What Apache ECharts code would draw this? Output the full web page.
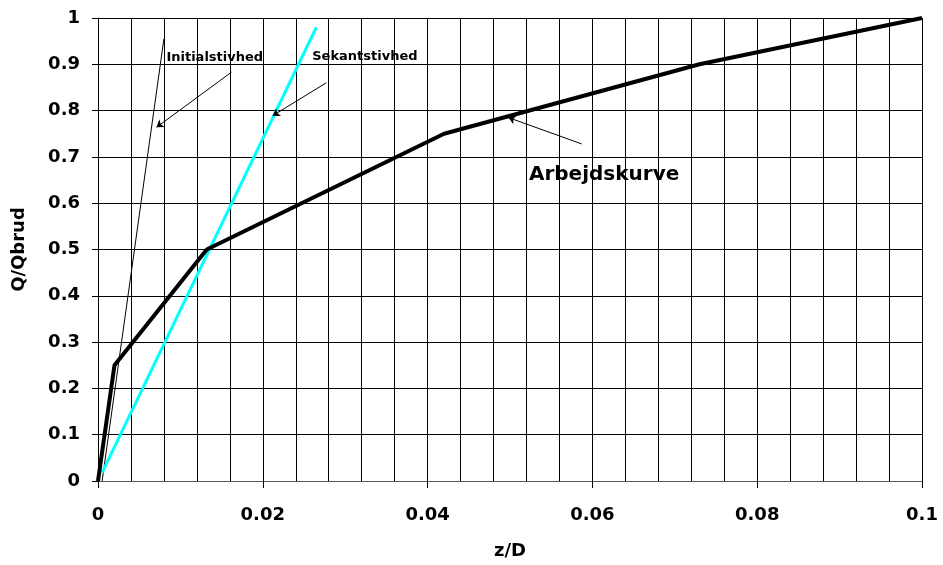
<!DOCTYPE html>
<html>
<head>
<meta charset="utf-8">
<script src="https://cdn.jsdelivr.net/npm/echarts@6/dist/echarts.min.js"></script>
<style>
html,body{margin:0;padding:0;background:#fff;}
#main{width:943px;height:565px;}
</style>
</head>
<body>
<div id="main"></div>
<script>
// Arbejdskurve (z/D, Q/Qbrud)
var arbejdsX = [0, 0.002, 0.0132, 0.042, 0.073, 0.1];
var arbejdsY = [0, 0.25, 0.5, 0.75, 0.9, 1.0];
// Sekantstivhed
var sekantX = [0.0005, 0.0265];
var sekantY = [0.018, 0.98];
// Initialstivhed
var initX = [0.0005, 0.008];
var initY = [0, 0.955];
// annotation arrows [fromX, fromY, toX, toY]
var arrowInit = [0.0162, 0.883, 0.0071, 0.764];
var arrowSekant = [0.0277, 0.860, 0.0212, 0.789];
var arrowArbejds = [0.0587, 0.728, 0.0498, 0.785];
// annotation texts [x, y, text, size]
var labelTexts = [
	[0.0083, 0.914, 'Initialstivhed', 13],
	[0.0260, 0.916, 'Sekantstivhed', 13],
	[0.0523, 0.662, 'Arbejdskurve', 20]
];

function pairs(xs, ys){
	var out = [];
	for(var i = 0;i<xs.length;i++){
		out.push([xs[i], ys[i]]);
	}
	return out;
}

function arrowLine(a){
	return [{coord:[a[0], a[1]]}, {coord:[a[2], a[3]]}];
}

function fmt(v){
	return String(parseFloat(v.toFixed(3)));
}

var chart = echarts.init(document.getElementById('main'));
var font = 'DejaVu Sans';

var option = {
	animation: false,
	backgroundColor: '#fff',
	grid: {left: 98, right: 21, top: 18, bottom: 80, containLabel: false},
	xAxis: {
		type: 'value',
		min: 0, max: 0.1, interval: 0.02,
		name: 'z/D',
		nameLocation: 'middle',
		nameGap: 61,
		nameTextStyle: {fontFamily: font, fontWeight: 'bold', fontSize: 18, color: '#000'},
		axisLine: {show: true, onZero: false, lineStyle: {color: '#555', width: 1}},
		axisTick: {show: true, length: 7, lineStyle: {color: '#000'}},
		minorTick: {show: false, splitNumber: 5},
		axisLabel: {fontFamily: font, fontWeight: 'bold', fontSize: 18, color: '#000', margin: 25, formatter: fmt},
		splitLine: {show: true, lineStyle: {color: '#000', width: 1}},
		minorSplitLine: {show: true, lineStyle: {color: '#000', width: 1}}
	},
	yAxis: {
		type: 'value',
		min: 0, max: 1, interval: 0.1,
		name: 'Q/Qbrud',
		nameLocation: 'middle',
		nameGap: 70,
		nameRotate: 90,
		nameTextStyle: {fontFamily: font, fontWeight: 'bold', fontSize: 18, color: '#000'},
		axisLine: {show: true, onZero: false, lineStyle: {color: '#000', width: 1}},
		axisTick: {show: true, length: 6, lineStyle: {color: '#000'}},
		axisLabel: {fontFamily: font, fontWeight: 'bold', fontSize: 18, color: '#000', margin: 18, formatter: fmt},
		splitLine: {show: true, lineStyle: {color: '#000', width: 1}}
	},
	series: [
		{
			name: 'Initialstivhed',
			type: 'line',
			data: pairs(initX, initY),
			symbol: 'none',
			lineStyle: {color: '#000', width: 1},
			z: 3
		},
		{
			name: 'Sekantstivhed',
			type: 'line',
			data: pairs(sekantX, sekantY),
			symbol: 'none',
			lineStyle: {color: '#00FFFF', width: 3},
			z: 4
		},
		{
			name: 'Arbejdskurve',
			type: 'line',
			data: pairs(arbejdsX, arbejdsY),
			symbol: 'none',
			lineStyle: {color: '#000', width: 4},
			z: 5,
			markLine: {
				silent: true,
				symbol: ['none', 'arrow'],
				symbolSize: 7,
				label: {show: false},
				lineStyle: {color: '#000', width: 1, type: 'solid'},
				data: [arrowLine(arrowInit), arrowLine(arrowSekant), arrowLine(arrowArbejds)]
			}
		},
		{
			type: 'scatter',
			symbolSize: 0,
			silent: true,
			itemStyle: {opacity: 1, color: '#000'},
			data: labelTexts.map(function(t){
				return {value: [t[0], t[1]], name: t[2], label: {fontSize: t[3], color: '#000'}};
			}),
			label: {
				show: true,
				position: 'right',
				distance: 0,
				fontFamily: font,
				fontWeight: 'bold',
				color: '#000',
				opacity: 1,
				formatter: function(p){ return p.name; }
			},
			z: 6
		}
	]
};

chart.setOption(option);
</script>
</body>
</html>
